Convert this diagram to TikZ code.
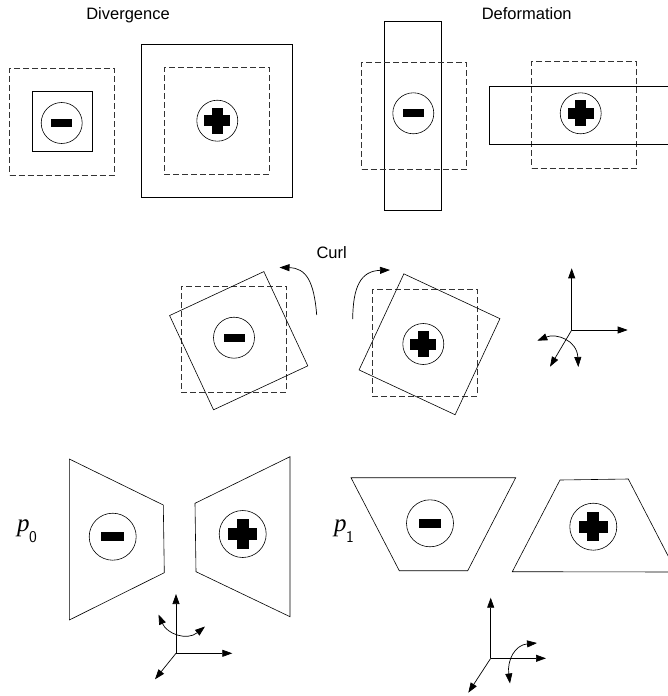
\documentclass[tikz,border=0pt]{standalone}
\usepackage{fontspec}
\setmainfont{Liberation Sans}
\newfontfamily\serfont{Liberation Serif}
\usetikzlibrary{arrows.meta}
\begin{document}
\begin{tikzpicture}[x=1pt,y=-1pt,
  solidbox/.style={draw, line width=0.6pt, inner sep=0pt},
  dashbox/.style={draw=black!80, line width=0.6pt, dash pattern=on 6pt off 3pt, inner sep=0pt, minimum width=105pt, minimum height=106.5pt},
  ringnode/.style={draw, circle, line width=0.6pt, inner sep=0pt, minimum size=41pt},
  bigring/.style={ringnode, minimum size=47pt},
  titletext/.style={font=\fontsize{16.5}{16.5}\selectfont},
  plabel/.style={font=\serfont\itshape\fontsize{25}{25}\selectfont, inner sep=0pt, anchor=base west},
  axisarrow/.style={line width=0.7pt, -{Triangle[length=10pt,width=7pt]}},
  twohead/.style={line width=0.7pt, {Triangle[length=10pt,width=7pt]}-{Triangle[length=10pt,width=7pt]}},
  trap/.style={draw, line width=0.6pt},
  pics/minussign/.style={code={\fill (-10.5,-4) rectangle (10.5,4);}},
  pics/plussign/.style={code={\fill (-13,-5.5) rectangle (13,5.5); \fill (-5.5,-13) rectangle (5.5,13);}},
]
\clip (0,0) rectangle (668,696);

% ---------------- Divergence ----------------
\node[titletext] (tdiv) at (128,15) {Divergence};
\node[dashbox] (dv1d) at (62.2,121.7) {};
\node[solidbox, minimum width=59.6pt, minimum height=60pt] (dv1s) at (62.5,121.7) {};
\node[ringnode] (dv1c) at (61.7,123) {};
\pic at (dv1c) {minussign};

\node[solidbox, minimum width=151.3pt, minimum height=153pt] (dv2s) at (216.7,120.8) {};
\node[dashbox] (dv2d) at (216.8,120.8) {};
\node[ringnode] (dv2c) at (217.3,120.7) {};
\pic at (dv2c) {plussign};

% ---------------- Deformation ----------------
\node[titletext] (tdef) at (526.7,13.5) {Deformation};
\node[solidbox, minimum width=57.7pt, minimum height=189.7pt] (df1s) at (412.8,115.8) {};
\node[dashbox] (df1d) at (414.2,115.7) {};
\node[ringnode] (df1c) at (413.3,113.3) {};
\pic at (df1c) {minussign};

\node[dashbox] (df2d) at (584.2,115) {};
\node[solidbox, minimum width=190pt, minimum height=57.3pt] (df2s) at (584.2,115.3) {};
\node[ringnode] (df2c) at (580.7,113.3) {};
\pic at (df2c) {plussign};

% ---------------- Curl ----------------
\node[titletext] (tcurl) at (331.7,252.5) {Curl};
\node[dashbox] (cu1d) at (233.8,339.2) {};
\node[solidbox, minimum width=104pt, minimum height=104pt, rotate=25] (cu1s) at (238.7,340.7) {};
\node[ringnode] (cu1c) at (234,337.7) {};
\pic at (cu1c) {minussign};

\node[dashbox] (cu2d) at (424.5,343) {};
\node[solidbox, minimum width=106pt, minimum height=106pt, rotate=-25] (cu2s) at (429.5,344.3) {};
\node[ringnode] (cu2c) at (423.3,344) {};
\pic at (cu2c) {plussign};

\coordinate (ca1s) at (316.7,315);
\coordinate (ca1e) at (279.5,267.5);
\draw[axisarrow] (ca1s) .. controls (314,281) and (306,268) .. (ca1e);
\coordinate (ca2s) at (352.7,319);
\coordinate (ca2e) at (390,270);
\draw[axisarrow] (ca2s) .. controls (353,286) and (361,271) .. (ca2e);

% axes (curl)
\coordinate (ax1o) at (571.7,330);
\coordinate (ax1u) at (571.7,268.3);
\coordinate (ax1r) at (627.7,330);
\coordinate (ax1d) at (550,366.7);
\coordinate (ax1a) at (537.3,340.7);
\coordinate (ax1b) at (578.3,367);
\draw[axisarrow] (ax1o) -- (ax1u);
\draw[axisarrow] (ax1o) -- (ax1r);
\draw[axisarrow] (ax1o) -- (ax1d);
\draw[twohead] (ax1a) .. controls (556,333) and (577,340) .. (ax1b);

% ---------------- p0 ----------------
\node[plabel] (p0) at (17,531) {p\kern-0.5pt\raisebox{-11.5pt}{\sffamily\upshape\fontsize{16.5}{16.5}\selectfont 0}};
\draw[trap] (69.3,459) -- (163.3,505) -- (164.3,572.7) -- (69.3,620) -- cycle;
\node[bigring] (b1c) at (112.7,536.7) {};
\pic[scale=1.08] at (b1c) {minussign};
\draw[trap] (195,503.3) -- (290,456.7) -- (290,616.7) -- (196,571.7) -- cycle;
\node[bigring] (b2c) at (242.7,534) {};
\pic[scale=1.12] at (b2c) {plussign};

\coordinate (ax2o) at (176,653.3);
\coordinate (ax2u) at (176,594);
\coordinate (ax2r) at (232.3,653.3);
\coordinate (ax2d) at (155,679.3);
\coordinate (ax2a) at (158.5,614.5);
\coordinate (ax2b) at (205,626.5);
\draw[axisarrow] (ax2o) -- (ax2u);
\draw[axisarrow] (ax2o) -- (ax2r);
\draw[axisarrow] (ax2o) -- (ax2d);
\draw[twohead] (ax2a) .. controls (167,634) and (187,641) .. (ax2b);

% ---------------- p1 ----------------
\node[plabel] (p1) at (334,531) {p\kern-0.5pt\raisebox{-11.5pt}{\sffamily\upshape\fontsize{16.5}{16.5}\selectfont 1}};
\draw[trap] (351,477.7) -- (515.7,477.7) -- (467.7,570.7) -- (399.3,570.7) -- cycle;
\node[bigring] (b3c) at (430,523.3) {};
\pic[scale=1.08] at (b3c) {minussign};
\draw[trap] (512.3,571.7) -- (560,480) -- (628.3,479) -- (676.4,572) -- cycle;
\node[bigring] (b4c) at (593.3,526.7) {};
\pic[scale=1.12] at (b4c) {plussign};

\coordinate (ax3o) at (490.7,658.3);
\coordinate (ax3u) at (490.7,597.7);
\coordinate (ax3r) at (546,658.3);
\coordinate (ax3d) at (468.3,692.7);
\coordinate (ax3a) at (510,683.5);
\coordinate (ax3b) at (537,643);
\draw[axisarrow] (ax3o) -- (ax3u);
\draw[axisarrow] (ax3o) -- (ax3r);
\draw[axisarrow] (ax3o) -- (ax3d);
\draw[twohead] (ax3a) .. controls (507,660) and (515,645) .. (ax3b);
\end{tikzpicture}
\end{document}
